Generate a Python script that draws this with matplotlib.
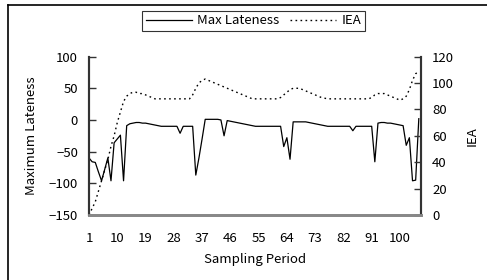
import matplotlib
matplotlib.use("Agg")
import matplotlib.pyplot as plt
from matplotlib.lines import Line2D

plt.rcParams['font.family'] = ['Noto Sans CJK JP', 'DejaVu Sans']

periods = list(range(1, 107))
max_lateness = [
    -60, -66, -67, -82, -96, -78, -60, -96, -36, -30,
    -24, -96, -9, -6, -5, -4, -4, -5, -5, -6,
    -7, -8, -9, -10, -10, -10, -10, -10, -10, -21,
    -10, -10, -10, -10, -87, -60, -30, 1, 1, 1,
    1, 1, 0, -25, -1, -2, -3, -4, -5, -6,
    -7, -8, -9, -10, -10, -10, -10, -10, -10, -10,
    -10, -10, -42, -28, -62, -3, -3, -3, -3, -3,
    -4, -5, -6, -7, -8, -9, -10, -10, -10, -10,
    -10, -10, -10, -10, -17, -10, -10, -10, -10, -10,
    -10, -66, -5, -4, -4, -5, -5, -6, -7, -8,
    -9, -40, -28, -96, -95, 2,
]
iea = [
    0, 5, 10, 18, 26, 34, 42, 52, 60, 70,
    78, 86, 90, 92, 93, 93, 92, 92, 91, 90,
    89, 88, 88, 88, 88, 88, 88, 88, 88, 88,
    88, 88, 88, 91, 96, 100, 102, 103, 102, 101,
    100, 99, 98, 97, 96, 95, 94, 93, 92, 91,
    90, 89, 88, 88, 88, 88, 88, 88, 88, 88,
    88, 89, 91, 93, 95, 96, 96, 96, 95, 94,
    93, 92, 91, 90, 89, 88.5, 88, 88, 88, 88,
    88, 88, 88, 88, 88, 88, 88, 88, 88, 88,
    89, 91, 92, 92, 92, 91, 90, 89, 88, 87,
    88, 90, 95, 102, 107, 109,
]
xtick_vals = [1, 10, 19, 28, 37, 46, 55, 64, 73, 82, 91, 100]
left_ticks = [-150, -100, -50, 0, 50, 100]
right_ticks = [0, 20, 40, 60, 80, 100, 120]

fig = plt.figure(figsize=(4.87, 2.8), dpi=100)
ax = fig.add_axes([89/487, 1-215/280, (421-89)/487, (215-56.6)/280])
ax2 = ax.twinx()

fs = 9.5
l1, = ax.plot(periods, max_lateness, color='black', lw=0.9, label='Max Lateness')
l2, = ax2.plot(periods, iea, color='black', lw=1.0, ls=(0, (1.2, 2.4)), label='IEA')

ax.set_xlim(1, 106.7)
ax.set_ylim(-150, 100)
ax2.set_ylim(0, 120)
ax.set_xticks(xtick_vals)
ax.set_yticks(left_ticks)
ax2.set_yticks(right_ticks)
ax.set_yticklabels(['\u2212150', '\u2212100', '\u221250', '0', '50', '100'])

for a in (ax, ax2):
    a.spines['top'].set_visible(False)
    a.spines['left'].set_color('#333333')
    a.spines['right'].set_color('#333333')
    a.spines['left'].set_linewidth(1.5)
    a.spines['right'].set_linewidth(1.5)
    a.spines['bottom'].set_color('#888888')
    a.spines['bottom'].set_linewidth(2)
    a.set_facecolor('none')

ax.tick_params(axis='x', length=0, labelsize=fs, pad=12)
ax.tick_params(axis='y', direction='in', length=5, width=1, labelsize=fs, pad=8, color='#333333')
ax2.tick_params(axis='y', direction='in', length=5, width=1, labelsize=fs, pad=8, color='#333333')

ax.set_xlabel('Sampling Period', fontsize=fs, labelpad=6)
ax.set_ylabel('Maximum Lateness', fontsize=fs, labelpad=8)
ax2.set_ylabel('IEA', fontsize=fs, labelpad=8)

leg = fig.legend(handles=[l1, l2], loc='center', bbox_to_anchor=(253.5/487, 1-21/280),
                 ncol=2, fontsize=fs, frameon=True, fancybox=False, handlelength=3.5,
                 handletextpad=0.4, columnspacing=0.8, borderpad=0.25, borderaxespad=0)
leg.get_frame().set_edgecolor('black')
leg.get_frame().set_linewidth(0.8)

# outer chart border (only top and left visible)
fig.add_artist(Line2D([8/487, 8/487], [0, 1-5/280], transform=fig.transFigure, color='black', lw=1.2))
fig.add_artist(Line2D([8/487, 1], [1-5/280, 1-5/280], transform=fig.transFigure, color='black', lw=1.2))

fig.savefig('out.png', dpi=100)
